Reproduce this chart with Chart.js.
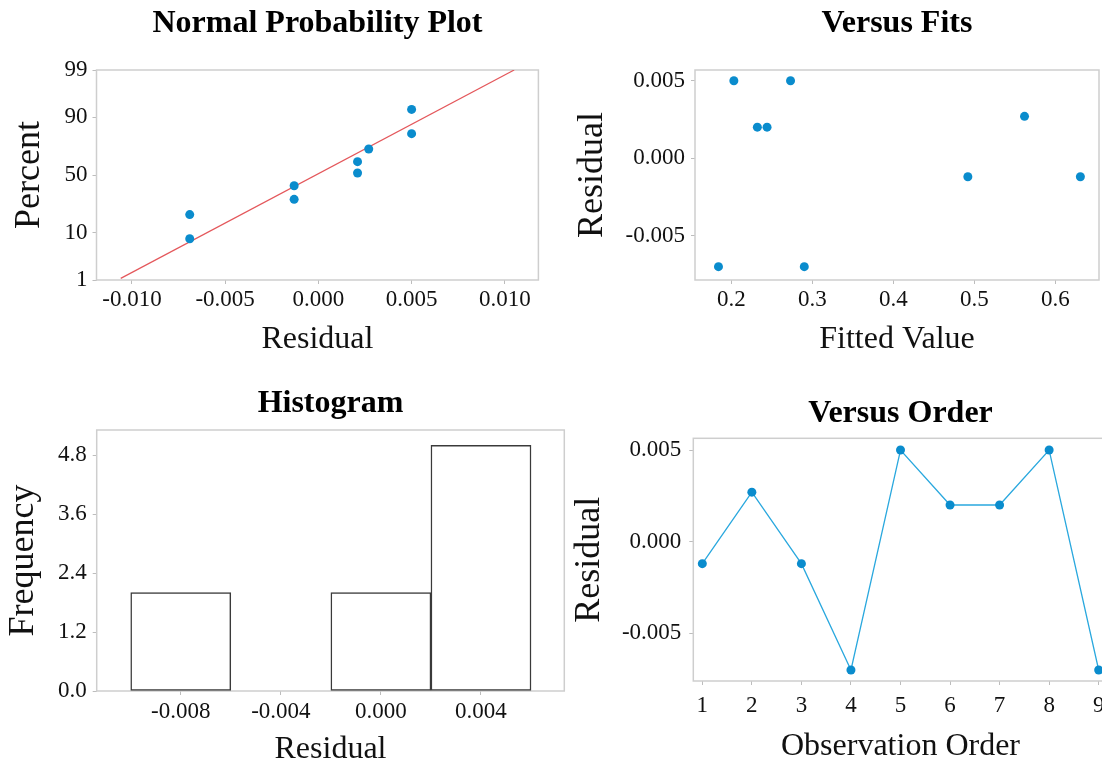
<!DOCTYPE html>
<html lang="en">
<head>
<meta charset="UTF-8">
<title>Residual Plots</title>
<script src="https://cdn.jsdelivr.net/npm/chart.js"></script>
<style>
  html, body { margin: 0; padding: 0; background: #fff; width: 1102px; height: 763px; overflow: hidden; }
  .panel { position: absolute; }
</style>
</head>
<body>
<div class="panel" style="left:0px;top:0px"><canvas id="probChart" width="635" height="370"></canvas></div>
<div class="panel" style="left:550px;top:0px"><canvas id="fitsChart" width="694" height="370"></canvas></div>
<div class="panel" style="left:0px;top:380px"><canvas id="histChart" width="661" height="400"></canvas></div>
<div class="panel" style="left:560px;top:380px"><canvas id="orderChart" width="681" height="400"></canvas></div>

<script>
  // residuals in observation order, and the fitted values they belong to
  const residuals = [-0.0012, 0.0027, -0.0012, -0.0070, 0.0050, 0.0020, 0.0020, 0.0050, -0.0070];
  const fittedValues = [0.492, 0.562, 0.631, 0.184, 0.203, 0.232, 0.244, 0.273, 0.290];
  const observations = [1, 2, 3, 4, 5, 6, 7, 8, 9];

  // normal probability plot (percent)
  const probResiduals = [-0.0069, -0.0069, -0.0013, -0.0013, 0.0021, 0.0021, 0.0027, 0.0050, 0.0050];
  const probPercents = [7.9, 19.0, 29.5, 40.6, 51.8, 61.6, 71.8, 82.0, 92.7];
  const fitLineResiduals = [-0.0106, 0.0105];
  const fitLinePercents = [1.1, 99];
  const percentTicks = [1, 10, 50, 90, 99];
  const probXTicks = [-0.010, -0.005, 0.000, 0.005, 0.010];

  // histogram
  const binCenters = [-0.008, -0.004, 0.000, 0.004];
  const binCounts = [2, 0, 2, 5];
  const freqTicks = [0, 1.2, 2.4, 3.6, 4.8];

  const fitsXTicks = [0.2, 0.3, 0.4, 0.5, 0.6];
  const residTicks = [-0.005, 0.000, 0.005];

  const dotBlue = '#0a8ccd';
  const lineBlue = '#2aa8de';
  const fitRed = '#e4585c';
  const frameGrey = '#cecece';

  Chart.defaults.font.family = "'Liberation Serif', 'Times New Roman', serif";
  Chart.defaults.color = '#111';
  Chart.defaults.animation = false;

  // inverse of the standard normal cdf (Acklam)
  function probit(p) {
    const a = [-39.69683028665376, 220.9460984245205, -275.9285104469687, 138.3577518672690, -30.66479806614716, 2.506628277459239];
    const b = [-54.47609879822406, 161.5858368580409, -155.6989798598866, 66.80131188771972, -13.28068155288572];
    const c = [-0.007784894002430293, -0.3223964580411365, -2.400758277161838, -2.549732539343734, 4.374664141464968, 2.938163982698783];
    const d = [0.007784695709041462, 0.3224671290700398, 2.445134137142996, 3.754408661907416];
    const pl = 0.02425;
    let q, r;
    if (p < pl) {
      q = Math.sqrt(-2 * Math.log(p));
      return (((((c[0]*q+c[1])*q+c[2])*q+c[3])*q+c[4])*q+c[5]) / ((((d[0]*q+d[1])*q+d[2])*q+d[3])*q+1);
    }
    if (p > 1 - pl) {
      q = Math.sqrt(-2 * Math.log(1 - p));
      return -(((((c[0]*q+c[1])*q+c[2])*q+c[3])*q+c[4])*q+c[5]) / ((((d[0]*q+d[1])*q+d[2])*q+d[3])*q+1);
    }
    q = p - 0.5; r = q * q;
    return (((((a[0]*r+a[1])*r+a[2])*r+a[3])*r+a[4])*r+a[5])*q / (((((b[0]*r+b[1])*r+b[2])*r+b[3])*r+b[4])*r+1);
  }

  // light grey box round the plot area
  const framePlugin = {
    id: 'frame',
    beforeDatasetsDraw(chart) {
      const { ctx, chartArea: a } = chart;
      ctx.save();
      ctx.strokeStyle = frameGrey;
      ctx.lineWidth = 1.5;
      ctx.strokeRect(a.left, a.top, a.right - a.left, a.bottom - a.top);
      ctx.restore();
    }
  };

  const tickFont = { size: 23 };
  const tickGrid = { drawOnChartArea: false, drawTicks: true, tickLength: 4, color: '#bdbdbd', offset: false };

  function xAxis(min, max, ticks, fmt, title, height, titlePad, tickPad) {
    return {
      type: 'linear', position: 'bottom', min, max, offset: false,
      afterBuildTicks: s => { s.ticks = ticks.map(v => ({ value: v })); },
      afterFit: s => { s.height = height; s.paddingLeft = 0; s.paddingRight = 0; },
      ticks: { font: tickFont, padding: tickPad, maxRotation: 0, callback: fmt },
      grid: tickGrid,
      border: { display: false },
      title: { display: true, text: title, font: { size: 32 }, padding: { top: 0, bottom: titlePad } }
    };
  }

  function yAxis(min, max, ticks, fmt, title, width, titlePad, tickPad) {
    return {
      type: 'linear', position: 'left', min, max,
      afterBuildTicks: s => { s.ticks = ticks.map(v => ({ value: v })); },
      afterFit: s => { s.width = width; s.paddingTop = 0; s.paddingBottom = 0; },
      ticks: { font: tickFont, padding: tickPad, callback: fmt },
      grid: tickGrid,
      border: { display: false },
      title: { display: true, text: title, font: { size: 36 }, padding: { top: titlePad, bottom: 0 } }
    };
  }

  // empty right-hand axis, only to keep the plot centred under the title
  function spacerAxis(width) {
    return {
      type: 'linear', position: 'right', display: true,
      ticks: { display: false }, grid: { display: false }, border: { display: false },
      afterFit: s => { s.width = width; s.paddingTop = 0; s.paddingBottom = 0; }
    };
  }

  function baseOptions(titleText, titlePadTop, titlePadBottom) {
    return {
      responsive: false,
      layout: { padding: 0 },
      plugins: {
        legend: { display: false },
        tooltip: { enabled: false },
        title: {
          display: true, text: titleText, color: '#000',
          font: { size: 32, weight: 'bold' },
          padding: { top: titlePadTop, bottom: titlePadBottom }
        }
      }
    };
  }

  const fix3 = v => Number(v).toFixed(3);

  // Normal Probability Plot
  const probOpts = baseOptions('Normal Probability Plot', 5, 26.6);
  probOpts.scales = {
    x: xAxis(-0.0119, 0.0118, probXTicks, fix3, 'Residual', 90, 11.6, 2),
    y: yAxis(probit(0.01), probit(0.99), percentTicks.map(p => probit(p / 100)),
      (v, i) => percentTicks[i], 'Percent', 96.5, 8.3, 5),
    yR: spacerAxis(96.6)
  };
  new Chart(document.getElementById('probChart'), {
    type: 'scatter',
    data: {
      datasets: [
        {
          data: probResiduals.map((x, i) => ({ x, y: probit(probPercents[i] / 100) })),
          xAxisID: 'x', yAxisID: 'y',
          pointRadius: 4.5, pointHoverRadius: 4.5, backgroundColor: dotBlue, borderWidth: 0
        },
        {
          data: fitLineResiduals.map((x, i) => ({ x, y: probit(fitLinePercents[i] / 100) })),
          xAxisID: 'x', yAxisID: 'y',
          showLine: true, pointRadius: 0, borderColor: fitRed, borderWidth: 1.2
        }
      ]
    },
    options: probOpts,
    plugins: [framePlugin]
  });

  // Versus Fits
  const fitsOpts = baseOptions('Versus Fits', 5, 26.6);
  fitsOpts.scales = {
    x: xAxis(0.155, 0.654, fitsXTicks, v => Number(v).toFixed(1), 'Fitted Value', 90, 11.6, 2),
    y: yAxis(-0.00786, 0.00569, residTicks, fix3, 'Residual', 145, 20.8, 6),
    yR: spacerAxis(145)
  };
  new Chart(document.getElementById('fitsChart'), {
    type: 'scatter',
    data: {
      datasets: [{
        data: fittedValues.map((x, i) => ({ x, y: residuals[i] })),
        xAxisID: 'x', yAxisID: 'y',
        pointRadius: 4.5, pointHoverRadius: 4.5, backgroundColor: dotBlue, borderWidth: 0
      }]
    },
    options: fitsOpts,
    plugins: [framePlugin]
  });

  // Histogram
  const histOpts = baseOptions('Histogram', 5, 6.6);
  histOpts.scales = {
    x: xAxis(-0.01136, 0.00733, binCenters, fix3, 'Residual', 89, 11.6, 3),
    y: yAxis(0, 5.31, freqTicks, v => Number(v).toFixed(1), 'Frequency', 96.7, 2.3, 6),
    yR: spacerAxis(96.7)
  };
  new Chart(document.getElementById('histChart'), {
    type: 'bar',
    data: {
      datasets: [{
        data: binCenters.map((x, i) => ({ x, y: binCounts[i] })),
        xAxisID: 'x', yAxisID: 'y',
        backgroundColor: '#ffffff', borderColor: '#3a3a3a', borderWidth: 1.5,
        borderSkipped: false, barPercentage: 1, categoryPercentage: 1
      }]
    },
    options: histOpts,
    plugins: [framePlugin]
  });

  // Versus Order
  const orderOpts = baseOptions('Versus Order', 15, 4.9);
  orderOpts.scales = {
    x: xAxis(0.818, 9.182, observations, v => String(v), 'Observation Order', 99, 14.6, 7),
    y: yAxis(-0.0076, 0.00564, residTicks, fix3, 'Residual', 133.3, 8.3, 8),
    yR: spacerAxis(133.3)
  };
  new Chart(document.getElementById('orderChart'), {
    type: 'scatter',
    data: {
      datasets: [{
        data: observations.map((x, i) => ({ x, y: residuals[i] })),
        xAxisID: 'x', yAxisID: 'y',
        showLine: true, borderColor: lineBlue, borderWidth: 1.3,
        pointRadius: 4.5, pointHoverRadius: 4.5, pointBackgroundColor: dotBlue, pointBorderWidth: 0
      }]
    },
    options: orderOpts,
    plugins: [framePlugin]
  });
</script>
</body>
</html>
